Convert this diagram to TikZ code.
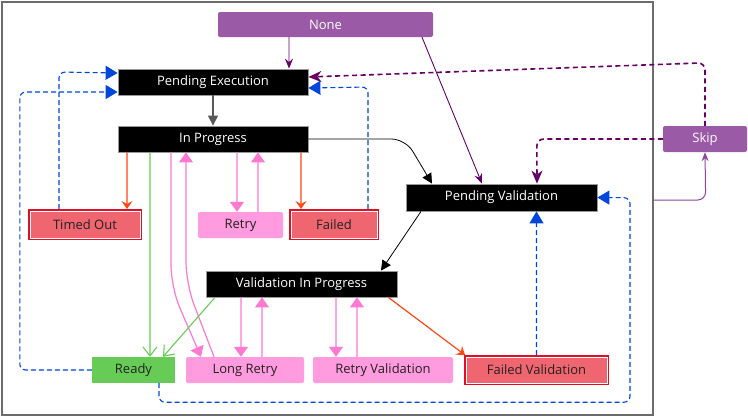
\documentclass[tikz,border=0pt]{standalone}
\usepackage{fontspec}
\setmainfont{Open Sans}
\usetikzlibrary{arrows.meta}
\definecolor{purnode}{RGB}{155,90,165}
\definecolor{puredge}{RGB}{102,0,102}
\definecolor{purlight}{RGB}{140,70,160}
\definecolor{blueedge}{RGB}{0,70,220}
\definecolor{orangeedge}{RGB}{255,70,20}
\definecolor{pinkedge}{RGB}{255,120,210}
\definecolor{pinknode}{RGB}{255,155,222}
\definecolor{greennode}{RGB}{102,204,85}
\definecolor{rednode}{RGB}{240,102,112}
\definecolor{redline}{RGB}{225,15,35}
\definecolor{textdark}{RGB}{34,34,34}
\tikzset{
  base/.style={rectangle, inner sep=0pt, font=\fontsize{13bp}{15bp}\selectfont},
  purbox/.style={base, fill=purnode, rounded corners=2bp, text=white},
  blackbox/.style={base, fill=black, draw=gray!80, line width=0.8bp, text=white},
  pinkbox/.style={base, fill=pinknode, rounded corners=2bp, text=textdark},
  greenbox/.style={base, fill=greennode, text=textdark},
  redbox/.style={base, fill=rednode, draw=redline, line width=2bp, text=textdark},
  frame/.style={draw=gray!85!black, line width=1.3bp},
  pinkarrow/.style={draw=pinkedge, line width=1.2bp, -{Triangle[width=14bp,length=10bp]}},
  orangearrow/.style={draw=orangeedge, line width=1.2bp, -{Stealth[width=11bp,length=8bp,inset=3bp]}},
  greenarrow/.style={draw=greennode, line width=1.1bp, -{Straight Barb[width=14bp,length=9bp]}},
  purarrow/.style={draw=puredge, line width=0.9bp, -{Stealth[width=8bp,length=10bp,inset=3.5bp]}},
  purdash/.style={draw=puredge, line width=1.6bp, dash pattern=on 5bp off 3.5bp, rounded corners=7bp, -{Stealth[width=11bp,length=13bp,inset=4bp]}},
  bluedash/.style={draw=blueedge, line width=1.1bp, dash pattern=on 5bp off 3bp, rounded corners=6bp, -{Triangle[width=14bp,length=12bp]}},
  blackarrow/.style={draw=black, line width=0.8bp, rounded corners=14bp, -{Triangle[width=10bp,length=10bp]}},
}
\newcommand{\innerwhite}[1]{\draw[white, line width=0.7bp] ([shift={(2bp,2bp)}]#1.south west) rectangle ([shift={(-2bp,-2bp)}]#1.north east);}
\begin{document}
\begin{tikzpicture}[x=1bp,y=-1bp]
\useasboundingbox (0,0) rectangle (748,417);
\node[frame, minimum width=651bp, minimum height=413bp] (frame) at (327.5,208.5) {};

\node[purbox, minimum width=215bp, minimum height=25bp] (None) at (325.5,24.5) {None};
\node[blackbox, minimum width=190bp, minimum height=26bp] (PE) at (213,82) {Pending Execution};
\node[blackbox, minimum width=190bp, minimum height=26bp] (IP) at (213,139) {In Progress};
\node[redbox, minimum width=112bp, minimum height=29bp] (TO) at (85,224.5) {Timed Out};
\node[pinkbox, minimum width=85bp, minimum height=26bp] (Retry) at (240.5,225) {Retry};
\node[redbox, minimum width=88bp, minimum height=29bp] (Failed) at (334,224.5) {Failed};
\node[blackbox, minimum width=191bp, minimum height=27bp] (PV) at (501.5,197.5) {Pending Validation};
\node[purbox, minimum width=84bp, minimum height=26bp] (Skip) at (705,139) {Skip};
\node[blackbox, minimum width=191bp, minimum height=26bp] (VIP) at (301.5,284) {Validation In Progress};
\node[greenbox, minimum width=83bp, minimum height=26bp] (Ready) at (133.5,370) {Ready};
\node[pinkbox, minimum width=118bp, minimum height=26bp] (LR) at (245,370) {Long Retry};
\node[pinkbox, minimum width=140bp, minimum height=26bp] (RV) at (383,370) {Retry Validation};
\node[redbox, minimum width=143bp, minimum height=28bp] (FV) at (536.5,370) {Failed Validation};
\innerwhite{TO}
\innerwhite{Failed}
\innerwhite{FV}

% purple from None
\draw[purarrow] ([xshift=-36.5bp]None.south) -- ([xshift=76bp]PE.north);
\draw[purarrow] ([xshift=96.5bp]None.south) -- ([xshift=-19.5bp]PV.north);
% black
\draw[draw=gray!70!black, line width=1.2bp, -{Triangle[width=10bp,length=10bp]}] (PE.south) -- (IP.north);
\draw[blackarrow] (IP.east) -- ++(97,0) -- ([xshift=-69.5bp]PV.north);
\draw[draw=black, line width=0.8bp, -{Triangle[width=10bp,length=10bp]}] ([xshift=-80.5bp]PV.south) -- ([xshift=79.5bp]VIP.north);
% orange
\draw[orangearrow] ([xshift=-86bp]IP.south) -- ([xshift=42bp]TO.north);
\draw[orangearrow] ([xshift=88bp]IP.south) -- ([xshift=-33bp]Failed.north);
\draw[orangearrow] ([xshift=-9bp]VIP.south east) -- ([xshift=1bp]FV.north west);
% pink
\draw[pinkarrow] ([xshift=24bp]IP.south) -- ([xshift=-3.5bp]Retry.north);
\draw[pinkarrow] ([xshift=17.5bp]Retry.north) -- ([xshift=45bp]IP.south);
\draw[pinkarrow, rounded corners=22bp] ([xshift=-42bp]IP.south) -- ++(0,135) -- ([xshift=-44bp]LR.north);
\draw[pinkarrow, rounded corners=22bp] ([xshift=-31bp]LR.north) -- ++(-28,-73) -- ([xshift=-27bp]IP.south);
\draw[pinkarrow] ([xshift=-60.5bp]VIP.south) -- ([xshift=-4bp]LR.north);
\draw[pinkarrow] ([xshift=17bp]LR.north) -- ([xshift=-39.5bp]VIP.south);
\draw[pinkarrow] ([xshift=34.5bp]VIP.south) -- ([xshift=-47bp]RV.north);
\draw[pinkarrow] ([xshift=-26bp]RV.north) -- ([xshift=55.5bp]VIP.south);
% green
\draw[greenarrow] ([xshift=-63bp]IP.south) -- ([xshift=16.5bp]Ready.north);
\draw[greenarrow] ([xshift=-86.5bp]VIP.south) -- ([xshift=29.5bp]Ready.north);
% skip
\draw[draw=purlight, line width=1bp, rounded corners=8bp, -{Stealth[width=7bp,length=9bp,inset=3bp]}] ([yshift=8.5bp]frame.east) -- ++(52,0) -- (Skip.south);
\draw[purdash] (Skip.north) -- ++(0,-63) -- ([yshift=5bp]PE.east);
\draw[purdash] (Skip.west) -- ++(-126,0) -- ([xshift=35.5bp]PV.north);
% blue dashed
\draw[bluedash] ([xshift=-26bp]TO.north) -- ++(0,-137) -- ([yshift=9bp]PE.west);
\draw[bluedash] (Ready.west) -- ++(-72,0) -- ++(0,-278) -- ([yshift=-10bp]PE.west);
\draw[bluedash] ([xshift=34bp]Failed.north) -- ++(0,-122) -- ([yshift=-6bp]PE.east);
\draw[bluedash] (FV.north) -- ([xshift=35bp]PV.south);
\draw[bluedash] ([xshift=25.5bp]Ready.south) -- ++(0,19) -- ++(471,0) -- ++(0,-204.5) -- (PV.east);
\end{tikzpicture}
\end{document}
